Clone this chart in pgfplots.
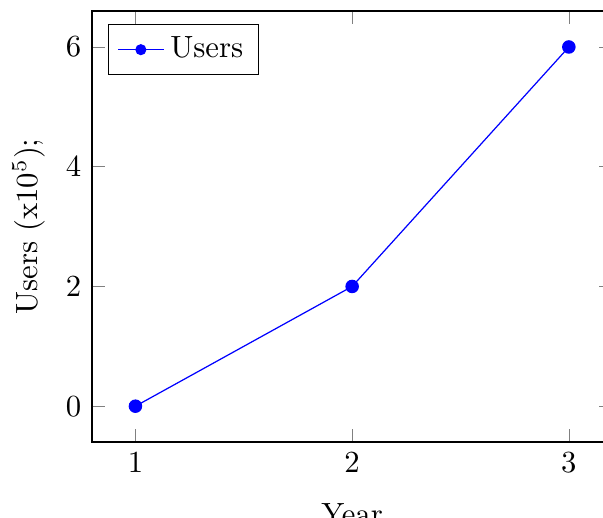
\documentclass[border=0pt]{standalone}
\usepackage{pgfplots}
\pgfplotsset{compat=1.18}
\begin{document}
\begin{tikzpicture}
\begin{axis}[
  scale only axis,
  width=169.4pt, height=140.4pt,
  at={(0,0)}, anchor=south west,
  xmin=0.8, xmax=3.2, ymin=-0.6, ymax=6.6,
  xtick={1,2,3}, ytick={0,2,4,6},
  xlabel={Year},
  xlabel style={yshift=-3pt},
  ylabel={Users (x$10^5$);},
  legend pos=north west,
  legend image code/.code={\draw[mark repeat=2,mark phase=2,mark size=1.6pt] plot coordinates {(0cm,0cm) (0.26cm,0cm) (0.52cm,0cm)};},
]
\addplot[blue, mark=*] coordinates {(1,0) (2,2) (3,6)};
\addlegendentry{Users}
\end{axis}
\pgfresetboundingbox
\path[use as bounding box] (-30pt,-24.4pt) rectangle (166.4pt,144pt);
\end{tikzpicture}
\end{document}
